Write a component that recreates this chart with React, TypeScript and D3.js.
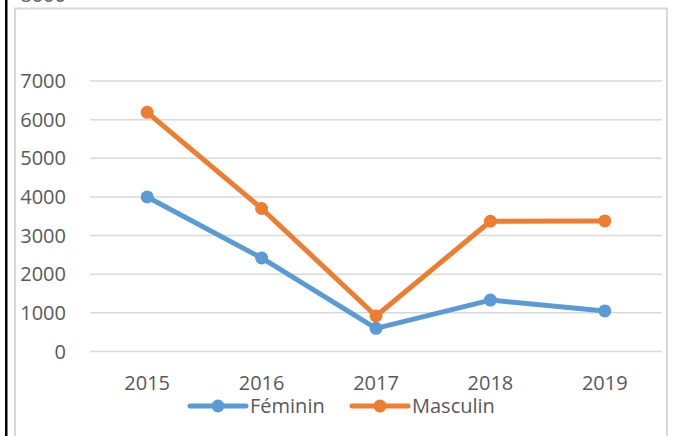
import React from "react";
import * as d3 from "d3";

const categories = ["2015", "2016", "2017", "2018", "2019"];
const feminin = [4000, 2420, 600, 1330, 1050];
const masculin = [6190, 3700, 920, 3370, 3380];
const yTicks = [0, 1000, 2000, 3000, 4000, 5000, 6000, 7000];
const seriesNames = ["Féminin", "Masculin"];
const colors = ["#5B9BD5", "#ED7D31"];

const W = 673;
const H = 436;
const FONT = "'Open Sans', 'Liberation Sans', sans-serif";

export default function App() {
  const x = d3.scalePoint<string>().domain(categories).range([90, 662]).padding(0.5);
  const y = d3.scaleLinear().domain([0, 7000]).range([351.5, 81]);
  const line = d3
    .line<number>()
    .x((_, i) => x(categories[i]) as number)
    .y((d) => y(d));
  const series = [feminin, masculin];

  return (
    <svg
      width={W}
      height={H}
      style={{ position: "absolute", left: 0, top: 0, background: "#fff" }}
      fontFamily={FONT}
    >
      <rect x={0} y={0} width={W} height={H} fill="#fff" />
      {/* partial label cut off at top */}
      <text x={66} y={2} textAnchor="end" fontSize={20} fill="#595959">8000</text>
      {/* black document line */}
      <rect x={5} y={0} width={2.5} height={H} fill="#000" />
      {/* chart border */}
      <path d={`M15,${H} L15,8.5 L667,8.5 L667,${H}`} fill="none" stroke="#D9D9D9" strokeWidth={2} />
      {/* gridlines */}
      {yTicks.map((t) => (
        <line key={t} x1={90} x2={662} y1={y(t)} y2={y(t)} stroke="#D9D9D9" strokeWidth={1.5} />
      ))}
      {/* y labels */}
      {yTicks.map((t) => (
        <text key={"l" + t} x={66} y={y(t) + 7} textAnchor="end" fontSize={20} fill="#595959">
          {t}
        </text>
      ))}
      {/* x labels */}
      {categories.map((c) => (
        <text key={c} x={x(c)} y={390} textAnchor="middle" fontSize={20} fill="#595959">
          {c}
        </text>
      ))}
      {/* series */}
      {series.map((s, si) => (
        <g key={si}>
          <path d={line(s) || ""} fill="none" stroke={colors[si]} strokeWidth={5} strokeLinejoin="round" strokeLinecap="round" />
          {s.map((v, i) => (
            <circle key={i} cx={x(categories[i])} cy={y(v)} r={6.5} fill={colors[si]} />
          ))}
        </g>
      ))}
      {/* legend */}
      {seriesNames.map((n, i) => {
        const lx = i === 0 ? 190 : 352;
        return (
          <g key={n}>
            <line x1={lx} x2={lx + 56} y1={406} y2={406} stroke={colors[i]} strokeWidth={5} strokeLinecap="round" />
            <circle cx={lx + 28} cy={406} r={6.5} fill={colors[i]} />
            <text x={lx + 60} y={413} fontSize={20} fill="#595959">{n}</text>
          </g>
        );
      })}
    </svg>
  );
}
